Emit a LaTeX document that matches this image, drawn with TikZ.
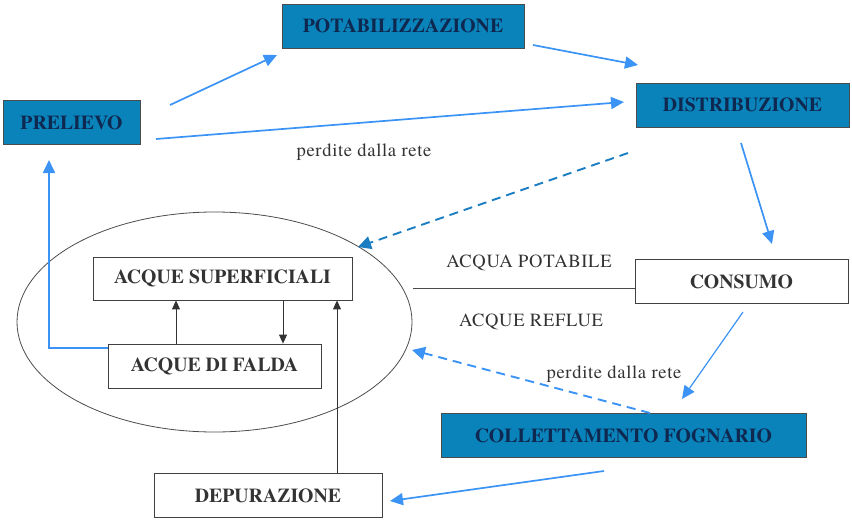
\documentclass[tikz,border=0pt]{standalone}
\usepackage{fontspec}
\newfontfamily\tms{texgyretermes}[Extension=.otf, UprightFont=*-regular, BoldFont=*-bold]
\newfontfamily\tmsw{texgyretermes}[Extension=.otf, UprightFont=*-regular, BoldFont=*-bold, LetterSpace=3.5]
\usetikzlibrary{arrows.meta,calc,shapes.geometric}
\definecolor{boxblue}{HTML}{0A82BA}
\definecolor{boxtext}{HTML}{0F2850}
\definecolor{arrblue}{HTML}{3A93F5}
\definecolor{dashblue}{HTML}{2A88D8}
\definecolor{dashteal}{HTML}{1B7EC2}
\tikzset{
  bluebox/.style={draw=black!70, line width=0.8pt, fill=boxblue, text=boxtext, font=\tms\bfseries\fontsize{19.8}{22}\selectfont, minimum height=44pt, inner sep=0pt},
  whitebox/.style={draw=black!75, line width=0.8pt, fill=white, text=black!80, font=\tms\bfseries\fontsize{19.8}{22}\selectfont, minimum height=44pt, inner sep=0pt},
  flow/.style={draw=arrblue, line width=1.7pt, -{Triangle[length=13pt,width=12pt]}},
  thinflow/.style={draw=arrblue, line width=1.2pt, -{Triangle[length=13pt,width=12pt]}},
  leak/.style={line width=1.9pt, dash pattern=on 9pt off 6pt, -{Triangle[length=13pt,width=13pt]}},
  blk/.style={draw=black!80, line width=0.9pt, -{Triangle[length=9pt,width=8pt]}},
  lbl/.style={text=black!80, font=\tmsw\fontsize{18.6}{21}\selectfont, inner sep=0pt},
}
\begin{document}
\begin{tikzpicture}[x=1pt,y=-1pt]
\useasboundingbox (0,0) rectangle (852,522);
% boxes
\node[bluebox, minimum width=137pt] (prel) at (71.5,122.5) {PRELIEVO};
\node[bluebox, minimum width=242pt] (pota) at (403,26) {POTABILIZZAZIONE};
\node[bluebox, minimum width=213pt] (dist) at (742.5,105) {DISTRIBUZIONE};
\node[whitebox, minimum width=213pt] (cons) at (741.5,281.5) {CONSUMO};
\node[bluebox, minimum width=365pt] (coll) at (623.5,435.5) {COLLETTAMENTO FOGNARIO};
\node[whitebox, minimum width=228pt] (depu) at (268,495.5) {DEPURAZIONE};
% ellipse
\node[draw=black!70, line width=0.8pt, ellipse, minimum width=395pt, minimum height=220pt, inner sep=0pt] (ell) at (214.5,322) {};
\node[whitebox, minimum width=259pt, minimum height=43pt] (sup) at (222.5,278.5) {ACQUE SUPERFICIALI};
\node[whitebox, minimum width=213pt] (fald) at (214.5,366) {ACQUE DI FALDA};
% coordinates
\coordinate (a1s) at (170,105);
\coordinate (a1e) at (277,55);
\coordinate (a2s) at (533,45);
\coordinate (a2e) at (638,65);
\coordinate (a3s) at (156,139);
\coordinate (a3e) at (624,102);
\coordinate (a4s) at (628,153);
\coordinate (a4e) at (358,247);
\coordinate (a5s) at (741,143);
\coordinate (a5e) at (772,244);
\coordinate (a6s) at (743,312);
\coordinate (a6e) at (682,399);
\coordinate (a7s) at (650,413);
\coordinate (a7e) at (412,350);
\coordinate (a8s) at (604,471);
\coordinate (a8e) at (390,501);
\coordinate (lv) at (49,348);
\coordinate (le) at (49,160);
\coordinate (ellr) at (413,288);
% flows
\draw[flow] (a1s) -- (a1e);
\draw[flow] (a2s) -- (a2e);
\draw[flow] (a3s) -- (a3e);
\draw[leak, draw=dashteal] (a4s) -- (a4e);
\draw[flow] (a5s) -- (a5e);
\draw[thinflow] (a6s) -- (a6e);
\draw[leak, draw=arrblue] (a7s) -- (a7e);
\draw[flow] (a8s) -- (a8e);
\draw[flow] (fald.west |- 0,348) -- (lv) -- (le);
% black arrows
\draw[blk] (fald.north -| 176,0) -- (sup.south -| 176,0);
\draw[blk] (sup.south -| 283,0) -- (fald.north -| 283,0);
\draw[blk] (depu.north -| 337,0) -- (sup.south -| 337,0);
% line ellipse - consumo
\draw[draw=black!70, line width=0.9pt] (ellr) -- (cons.west |- ellr);
% labels
\node[lbl] (l1) at (364,152) {perdite dalla rete};
\node[lbl] (l2) at (614,374) {perdite dalla rete};
\node[lbl] (l3) at (529,263) {ACQUA POTABILE};
\node[lbl] (l4) at (531,322) {ACQUE REFLUE};
\end{tikzpicture}
\end{document}
